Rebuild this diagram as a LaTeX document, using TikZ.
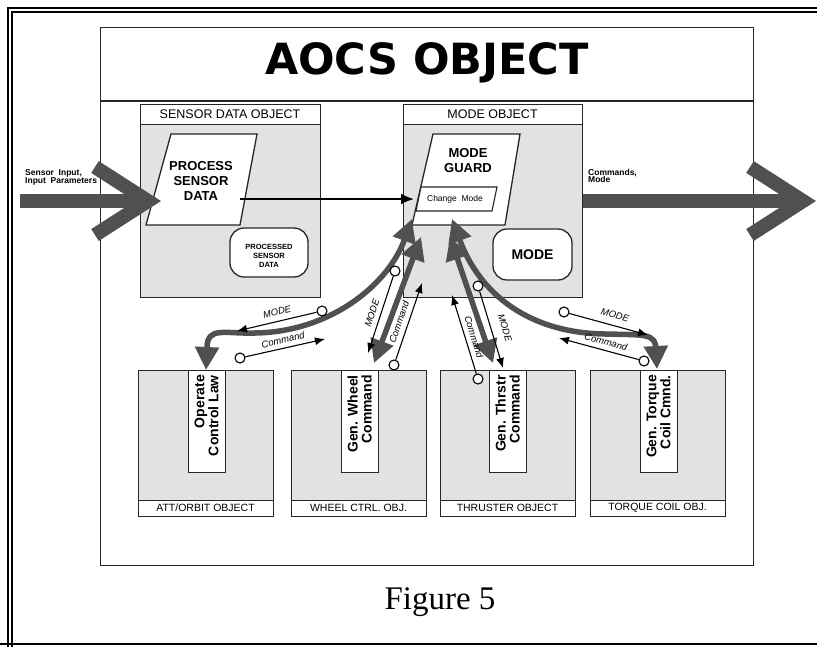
\documentclass[tikz,border=0pt]{standalone}
\usepackage{fontspec}
\setmainfont{Liberation Sans}
\newfontfamily\figfont{Liberation Serif}
\newfontfamily\titlefont{DejaVu Sans}
\usetikzlibrary{arrows.meta,calc}
\definecolor{boxgray}{HTML}{E2E2E2}
\definecolor{arrgray}{HTML}{505050}
\begin{document}
\begin{tikzpicture}[x=1pt,y=-1pt,line join=miter,
  objline/.style={draw=black!85, line width=1.3pt},
  graybody/.style={objline, fill=boxgray, rectangle, inner sep=0pt, anchor=north west},
  whitebox/.style={objline, fill=white, rectangle, inner sep=0pt, anchor=north west},
  otitle/.style={font=\fontsize{12.5}{14}\selectfont},
  btitle/.style={font=\fontsize{10.5}{12}\selectfont},
  bigbold/.style={font=\bfseries\fontsize{13}{15}\selectfont, align=center, inner sep=0pt},
  striptxt/.style={font=\bfseries\fontsize{14}{14}\selectfont, align=right, rotate=90, inner sep=0pt, anchor=east},
  iolabel/.style={font=\bfseries\fontsize{8.5}{7.5}\selectfont, align=left, inner sep=0pt, anchor=north west},
  garrow/.style={draw=arrgray, line width=5.5pt, {Triangle[length=23pt,width=23pt]}-{Triangle[length=23pt,width=23pt]}},
  barrow/.style={draw=black, line width=1.1pt, -{Latex[length=10pt,width=8pt]}},
  tailc/.style={circle, draw=black, fill=white, line width=1.1pt, minimum size=10pt, inner sep=0pt},
  lbl/.style={font=\itshape\fontsize{9.5}{10}\selectfont, inner sep=0pt},
  bigio/.style={draw=arrgray, line width=14pt},
  roundbox/.style={objline, fill=white, rounded corners=14pt, inner sep=0pt}
]
\useasboundingbox (0,0) rectangle (817,646);
\clip (0,0) rectangle (817,646);
% outer frame
\draw[line width=2.6pt] (8,700) -- (8,8) -- (900,8);
\draw[line width=1.5pt] (12,700) -- (12,12) -- (900,12);
\draw[line width=1.5pt] (0,644) -- (817,644);

% AOCS object
\node[whitebox, minimum width=653pt, minimum height=538pt, line width=1.2pt] (aocs) at (100,27) {};
\draw[line width=1.2pt, draw=black!85] (100,101) -- (753,101);
\node[font=\titlefont\bfseries\fontsize{43}{45}\selectfont, inner sep=0pt] (title) at (427,63) {AOCS OBJECT};

% sensor data object
\node[whitebox, minimum width=180pt, minimum height=20pt] (sdot) at (140,104) {};
\node[otitle] (sdotl) at (230,114) {SENSOR DATA OBJECT};
\node[graybody, minimum width=180pt, minimum height=173pt] (sdo) at (140,124) {};
\draw[objline, fill=white] (171,134) -- (257,134) -- (240,225) -- (146,225) -- cycle;
\node[bigbold] (psd) at (201,181) {PROCESS\\SENSOR\\DATA};
\node[roundbox, minimum width=78pt, minimum height=49pt] (psdata) at (269,252.5) {};
\node[font=\bfseries\fontsize{7.5}{9}\selectfont, align=center] (psdl) at (269,256) {PROCESSED\\SENSOR\\DATA};

% mode object
\node[whitebox, minimum width=179pt, minimum height=20pt] (mot) at (403,104) {};
\node[otitle] (motl) at (492.5,114) {MODE OBJECT};
\node[graybody, minimum width=179pt, minimum height=173pt] (mo) at (403,124) {};
\draw[objline, fill=white] (433,134) -- (520,134) -- (505,225) -- (412,225) -- cycle;
\node[bigbold] (mg) at (468,161) {MODE\\GUARD};
\draw[objline, line width=1.1pt, fill=white] (421,187) -- (497,187) -- (492,211) -- (416,211) -- cycle;
\node[font=\fontsize{8.5}{10}\selectfont, inner sep=0pt] (cm) at (455,199) {Change\ \ Mode};
\node[roundbox, minimum width=79pt, minimum height=51pt] (modebox) at (532.5,254.5) {};
\node[font=\bfseries\fontsize{14}{16}\selectfont, inner sep=0pt] (model) at (532.5,254.5) {MODE};

% bottom objects
\node[graybody, minimum width=135pt, minimum height=130pt] (b1) at (138,370) {};
\node[graybody, minimum width=135pt, minimum height=130pt] (b2) at (291,370) {};
\node[graybody, minimum width=135pt, minimum height=130pt] (b3) at (440,370) {};
\node[graybody, minimum width=135pt, minimum height=130pt] (b4) at (590,370) {};
\node[whitebox, minimum width=135pt, minimum height=16pt] (l1) at (138,500) {};
\node[whitebox, minimum width=135pt, minimum height=16pt] (l2) at (291,500) {};
\node[whitebox, minimum width=135pt, minimum height=16pt] (l3) at (440,500) {};
\node[whitebox, minimum width=135pt, minimum height=16pt] (l4) at (590,500) {};
\node[btitle] (lt1) at (205.5,508) {ATT/ORBIT OBJECT};
\node[btitle] (lt2) at (358.5,508) {WHEEL CTRL. OBJ.};
\node[btitle] (lt3) at (507.5,508) {THRUSTER OBJECT};
\node[btitle] (lt4) at (657.5,508) {TORQUE COIL OBJ.};
\node[whitebox, line width=1pt, minimum width=37pt, minimum height=102pt] (s1) at (188,370) {};
\node[whitebox, line width=1pt, minimum width=37pt, minimum height=102pt] (s2) at (341,370) {};
\node[whitebox, line width=1pt, minimum width=37pt, minimum height=102pt] (s3) at (489,370) {};
\node[whitebox, line width=1pt, minimum width=37pt, minimum height=102pt] (s4) at (640,370) {};
\node[striptxt] (t1) at (206.5,375) {Operate\\Control Law};
\node[striptxt] (t2) at (359.5,375) {Gen. Wheel\\Command};
\node[striptxt] (t3) at (507.5,375) {Gen. Thrstr\\Command};
\node[striptxt] (t4) at (658.5,375) {Gen. Torque\\Coil Cmnd.};

% coordinates for connectors
\coordinate (gA1) at (412,219);
\coordinate (gA2) at (206,370);
\coordinate (gB1) at (421,237);
\coordinate (gB2) at (374,363);
\coordinate (gC1) at (450,237);
\coordinate (gC2) at (493,363);
\coordinate (gD1) at (452,219);
\coordinate (gD2) at (657,369);

% gray interaction arrows
\draw[garrow] (gA1) .. controls (388,285) and (330,332) .. (255,333)
   .. controls (225,334) and (207,326) .. (207,348) -- (gA2);
\draw[garrow] (gB1) -- (gB2);
\draw[garrow] (gC1) -- (gC2);
\draw[garrow] (gD1) .. controls (480,295) and (530,333) .. (605,334)
   .. controls (645,335) and (656,333) .. (656,350) -- (gD2);

% black message arrows with circle tails
\node[tailc] (c1) at (322,311) {}; \coordinate (a1) at (237,331);
\node[tailc] (c2) at (240,358) {}; \coordinate (a2) at (325,339);
\node[tailc] (c3) at (395,271) {}; \coordinate (a3) at (368,353);
\node[tailc] (c4) at (394,365) {}; \coordinate (a4) at (422,283);
\node[tailc] (c5) at (478,379) {}; \coordinate (a5) at (452,295);
\node[tailc] (c6) at (478,286) {}; \coordinate (a6) at (503,368);
\node[tailc] (c7) at (564,312) {}; \coordinate (a7) at (648,335);
\node[tailc] (c8) at (644,361) {}; \coordinate (a8) at (559,338);
\draw[barrow] (c1) -- (a1);
\draw[barrow] (c2) -- (a2);
\draw[barrow] (c3) -- (a3);
\draw[barrow] (c4) -- (a4);
\draw[barrow] (c5) -- (a5);
\draw[barrow] (c6) -- (a6);
\draw[barrow] (c7) -- (a7);
\draw[barrow] (c8) -- (a8);
\node[lbl, rotate=13] (m1) at (277,312) {MODE};
\node[lbl, rotate=13] (k1) at (283,340) {Command};
\node[lbl, rotate=71.5] (m2) at (372,313) {MODE};
\node[lbl, rotate=71] (k2) at (399,322) {Command};
\node[lbl, rotate=-73] (k3) at (474,337) {Command};
\node[lbl, rotate=-73] (m3) at (505,328) {MODE};
\node[lbl, rotate=-15] (m4) at (615,315) {MODE};
\node[lbl, rotate=-15] (k4) at (606,342) {Command};

% process -> mode guard
\coordinate (pOut) at (240,199);
\coordinate (gIn) at (414,199);
\draw[line width=2pt, -{Latex[length=13pt,width=11pt]}] (pOut) -- (gIn);

% input / output big arrows
\coordinate (inS) at (20,201);
\coordinate (inT) at (148,201);
\draw[bigio, line cap=butt] (inS) -- (inT);
\draw[bigio] (95,167) -- (inT) -- (95,235);
\node[iolabel] (inl) at (25,169) {Sensor\ \ Input,\\Input\ \ Parameters};
\coordinate (outS) at (583,201);
\coordinate (outT) at (803,201);
\draw[bigio, line cap=butt] (outS) -- (outT);
\draw[bigio] (750,167) -- (outT) -- (750,235);
\node[iolabel] (outl) at (588,169) {Commands,\\Mode};

% caption
\node[font=\figfont\fontsize{33}{36}\selectfont, inner sep=0pt] (cap) at (440,602) {Figure 5};
\end{tikzpicture}
\end{document}
